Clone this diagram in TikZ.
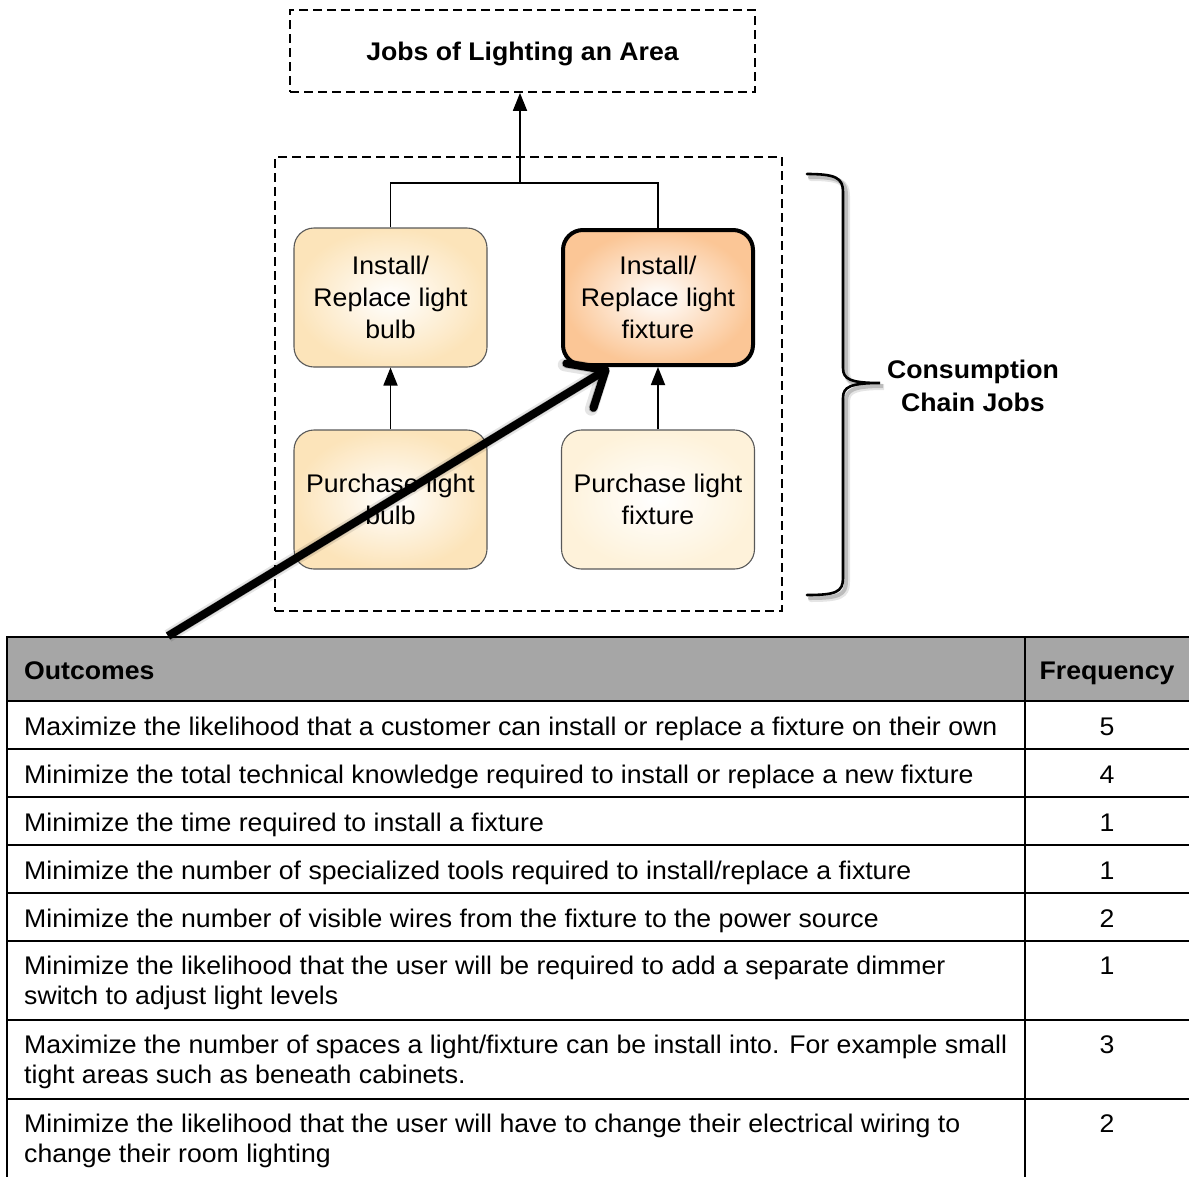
\documentclass[tikz,border=0pt]{standalone}
\usepackage{fontspec}
\setmainfont[FakeStretch=1.045]{Liberation Sans}
\usetikzlibrary{arrows.meta}
\definecolor{headgray}{RGB}{166,166,166}
\definecolor{bulbfill}{RGB}{252,228,186}
\definecolor{fixfill}{RGB}{254,242,218}
\definecolor{hotfill}{RGB}{251,198,150}
\begin{document}
\begin{tikzpicture}[x=1pt,y=-1pt,
  font=\fontsize{25.5}{30}\selectfont,
  dashbox/.style={draw, line width=1.8pt, dash pattern=on 9pt off 5pt, inner sep=0pt},
  jobbox/.style={draw=black!65, line width=1.1pt, rounded corners=20pt,
    minimum width=193pt, minimum height=139pt, align=center, inner sep=0pt,
    shading=radial, inner color=white, outer color=#1,
    font=\fontsize{25.5}{32}\selectfont},
  link/.style={line width=1.8pt},
  uparrow/.style={line width=1.8pt, -{Triangle[length=18pt,width=14pt]}},
  gridline/.style={line width=2pt},
  cell/.style={anchor=base west, inner sep=0pt, align=left},
  freq/.style={anchor=base, inner sep=0pt},
  bracepath/.style={line width=2.6pt, line cap=round},
  pointer/.style={-{Straight Barb[length=30pt,width=52pt,round]}},
]
\useasboundingbox (0,0) rectangle (1189,1176);
\clip (0,0) rectangle (1189,1176);

% ---- top goal
\node[dashbox, minimum width=465pt, minimum height=82pt, text depth=0pt,
      font=\bfseries\fontsize{25.5}{30}\selectfont] (goal) at (522.5,51) {Jobs of Lighting an Area};

% ---- consumption chain frame
\node[dashbox, minimum width=507pt, minimum height=454pt] (chain) at (528.5,384) {};

% ---- job boxes
\node[jobbox=bulbfill] (ib) at (390.5,297.5) {Install/\\Replace light\\bulb};
\node[jobbox=hotfill, draw=black, line width=4pt, minimum width=190pt, minimum height=135pt] (if) at (658,297.5) {Install/\\Replace light\\fixture};
\node[jobbox=bulbfill] (pb) at (390.5,499.5) {Purchase light\\bulb};
\node[jobbox=fixfill] (pf) at (658,499.5) {Purchase light\\fixture};

% ---- connectors
\coordinate (join) at (520,183);
\draw[link] (ib.north) |- (join) -| (if.north);
\draw[uparrow] (join) -- (join |- goal.south);
\draw[uparrow] (pb.north) -- (ib.south);
\draw[uparrow] (pf.north) -- (if.south);

% ---- brace with soft shadow
\foreach \dx/\op/\lw in {4/0.10/6, 3/0.18/4} {
  \draw[line width=\lw pt, black, opacity=\op, line cap=round, shift={(\dx,\dx)}]
    (807,174) .. controls (836,174) and (843,178) .. (843,192)
    -- (843,368) .. controls (843,379) and (850,383) .. (880,383)
    .. controls (850,383) and (843,387) .. (843,398)
    -- (843,578) .. controls (843,592) and (836,595) .. (807,595);
}
\draw[bracepath]
    (807,174) .. controls (836,174) and (843,178) .. (843,192)
    -- (843,368) .. controls (843,379) and (850,383) .. (880,383)
    .. controls (850,383) and (843,387) .. (843,398)
    -- (843,578) .. controls (843,592) and (836,595) .. (807,595);
\node[align=center, inner sep=0pt, font=\bfseries\fontsize{25.5}{33}\selectfont] (cclabel) at (973,385.5) {Consumption\\Chain Jobs};

% ---- outcomes table
\fill[headgray] (7,637) rectangle (1195,701);
\foreach \yy in {637,701,749,797,845,893,941,1020,1099}
  \draw[gridline] (6,\yy) -- (1195,\yy);
\draw[gridline] (7,636) -- (7,1180);
\draw[gridline] (1025,636) -- (1025,1180);

\node[cell, font=\bfseries\fontsize{25.5}{30}\selectfont] (hout) at (24,679) {Outcomes};
\node[freq, font=\bfseries\fontsize{25.5}{30}\selectfont] (hfreq) at (1107,679) {Frequency};

% single-line rows: base = the line's baseline; two-line rows: base = second baseline
\node[cell] (o1) at (24,735) {Maximize the likelihood that a customer can install or replace a fixture on their own};
\node[cell] (o2) at (24,783) {Minimize the total technical knowledge required to install or replace a new fixture};
\node[cell] (o3) at (24,831) {Minimize the time required to install a fixture};
\node[cell] (o4) at (24,879) {Minimize the number of specialized tools required to install/replace a fixture};
\node[cell] (o5) at (24,927) {Minimize the number of visible wires from the fixture to the power source};
\node[cell] (o6) at (24,1004) {Minimize the likelihood that the user will be required to add a separate dimmer\\switch to adjust light levels};
\node[cell] (o7) at (24,1083) {Maximize the number of spaces a light/fixture can be install into. For example small\\tight areas such as beneath cabinets.};
\node[cell] (o8) at (24,1162) {Minimize the likelihood that the user will have to change their electrical wiring to\\change their room lighting};

\node[freq] (f1) at (1107,735) {5};
\node[freq] (f2) at (1107,783) {4};
\node[freq] (f3) at (1107,831) {1};
\node[freq] (f4) at (1107,879) {1};
\node[freq] (f5) at (1107,927) {2};
\node[freq] (f6) at (1107,974) {1};
\node[freq] (f7) at (1107,1053) {3};
\node[freq] (f8) at (1107,1132) {2};

% ---- pointer from the table to the highlighted job
\coordinate (ptrfrom) at (168,636);
\coordinate (ptrto) at (609,368);
\foreach \dx/\op/\lw in {5/0.10/13, 3/0.2/9} {
  \draw[line width=\lw pt, opacity=\op, shift={(\dx,\dx)}, pointer] (ptrfrom) -- (ptrto);
}
\draw[line width=8pt, pointer] (ptrfrom) -- (ptrto);
\end{tikzpicture}
\end{document}
